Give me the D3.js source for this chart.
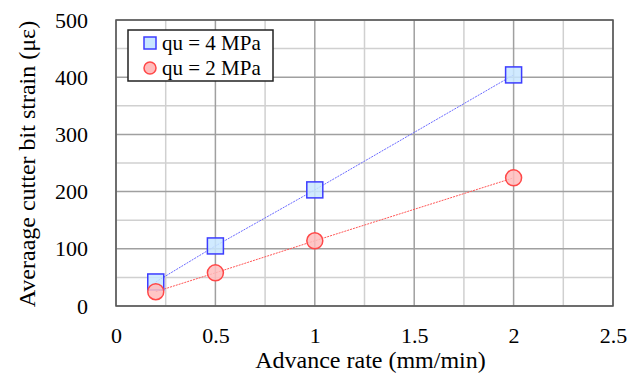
<!DOCTYPE html>
<html>
<head>
<meta charset="utf-8">
<script src="https://cdn.jsdelivr.net/npm/d3@7"></script>
<style>
  body { margin: 0; background: #fff; }
</style>
</head>
<body>
<svg id="chart" width="640" height="376"></svg>
<script>
// data
var advanceRate = [0.2, 0.5, 1, 2];
var strainQu4 = [42, 105, 203, 404];
var strainQu2 = [25, 58, 114, 224];
var seriesNames = ["qu = 4 MPa", "qu = 2 MPa"];
var xTicks = [0, 0.5, 1, 1.5, 2, 2.5];
var yTicks = [0, 100, 200, 300, 400, 500];

var serif = "'Liberation Serif', 'Times New Roman', serif";

var svg = d3.select("#chart");
var margin = { top: 20, right: 27, bottom: 70, left: 116 };
var width = +svg.attr("width") - margin.left - margin.right;
var height = +svg.attr("height") - margin.top - margin.bottom;

var x = d3.scaleLinear().domain([0, 2.5]).range([0, width]);
var y = d3.scaleLinear().domain([0, 500]).range([height, 0]);

var g = svg.append("g")
    .attr("transform", "translate(" + margin.left + "," + margin.top + ")");

// minor grid
g.selectAll(".vminor")
    .data(d3.range(0.25, 2.5, 0.5))
    .enter().append("line")
    .attr("x1", function (d) { return x(d); })
    .attr("x2", function (d) { return x(d); })
    .attr("y1", 0).attr("y2", height)
    .attr("stroke", "#d0d0d0").attr("stroke-width", 1.5);

g.selectAll(".hminor")
    .data(d3.range(50, 500, 100))
    .enter().append("line")
    .attr("y1", function (d) { return y(d); })
    .attr("y2", function (d) { return y(d); })
    .attr("x1", 0).attr("x2", width)
    .attr("stroke", "#d0d0d0").attr("stroke-width", 1.5);

// major grid
g.selectAll(".vmajor")
    .data(xTicks)
    .enter().append("line")
    .attr("x1", function (d) { return x(d); })
    .attr("x2", function (d) { return x(d); })
    .attr("y1", 0).attr("y2", height)
    .attr("stroke", "#a0a0a0").attr("stroke-width", 1.5);

g.selectAll(".hmajor")
    .data(yTicks)
    .enter().append("line")
    .attr("y1", function (d) { return y(d); })
    .attr("y2", function (d) { return y(d); })
    .attr("x1", 0).attr("x2", width)
    .attr("stroke", "#a0a0a0").attr("stroke-width", 1.5);

// frame
g.append("rect")
    .attr("width", width).attr("height", height)
    .attr("fill", "none").attr("stroke", "#555").attr("stroke-width", 1.5);

// axes (labels only)
var xAxis = g.append("g")
    .attr("transform", "translate(0," + height + ")")
    .call(d3.axisBottom(x).tickValues(xTicks).tickSize(0).tickPadding(21)
        .tickFormat(function (d) { return d; }));
xAxis.select(".domain").remove();
xAxis.selectAll("text").style("font-size", "22px").style("font-family", serif).attr("fill", "#000");

var yAxis = g.append("g")
    .call(d3.axisLeft(y).tickValues(yTicks).tickSize(0).tickPadding(28));
yAxis.select(".domain").remove();
yAxis.selectAll("text").style("font-size", "22px").style("font-family", serif).attr("fill", "#000");

svg.append("text")
    .attr("x", margin.left + width / 2 + 6)
    .attr("y", 368)
    .attr("text-anchor", "middle")
    .style("font-family", serif)
    .style("font-size", "24px")
    .text("Advance rate (mm/min)");

svg.append("text")
    .attr("transform", "translate(35," + (margin.top + height / 2 + 1) + ") rotate(-90)")
    .attr("text-anchor", "middle")
    .style("font-family", serif)
    .style("font-size", "24px")
    .text("Averaage cutter bit strain (\u03bc\u03b5)");

// series lines
var line = d3.line()
    .x(function (d) { return x(d[0]); })
    .y(function (d) { return y(d[1]); });

var qu4 = advanceRate.map(function (d, i) { return [d, strainQu4[i]]; });
var qu2 = advanceRate.map(function (d, i) { return [d, strainQu2[i]]; });

g.append("path").datum(qu4).attr("d", line)
    .attr("fill", "none").attr("stroke", "#6a6aff").attr("stroke-width", 1)
    .attr("stroke-dasharray", "2,1");
g.append("path").datum(qu2).attr("d", line)
    .attr("fill", "none").attr("stroke", "#ff5555").attr("stroke-width", 1)
    .attr("stroke-dasharray", "2,1");

// markers
g.selectAll(".sq").data(qu4).enter().append("rect")
    .attr("x", function (d) { return x(d[0]) - 8; })
    .attr("y", function (d) { return y(d[1]) - 8; })
    .attr("width", 16).attr("height", 16)
    .attr("fill", "#c8e6ff").attr("fill-opacity", 0.85)
    .attr("stroke", "#3c3cff").attr("stroke-width", 1.5);

g.selectAll(".ci").data(qu2).enter().append("circle")
    .attr("cx", function (d) { return x(d[0]); })
    .attr("cy", function (d) { return y(d[1]); })
    .attr("r", 8)
    .attr("fill", "#ffbcbc").attr("fill-opacity", 0.85)
    .attr("stroke", "#ff4848").attr("stroke-width", 1.5);

// legend
var lg = svg.append("g").attr("transform", "translate(128,30)");
lg.append("rect").attr("width", 145).attr("height", 51)
    .attr("fill", "#fff").attr("stroke", "#222").attr("stroke-width", 1.5);
lg.append("rect").attr("x", 16).attr("y", 7).attr("width", 12).attr("height", 12)
    .attr("fill", "#c8e6ff").attr("stroke", "#3c3cff").attr("stroke-width", 1.5);
lg.append("circle").attr("cx", 22).attr("cy", 38).attr("r", 6)
    .attr("fill", "#ffbcbc").attr("stroke", "#ff4848").attr("stroke-width", 1.5);
lg.selectAll(".lt").data(seriesNames).enter().append("text")
    .attr("x", 34)
    .attr("y", function (d, i) { return 20 + i * 25; })
    .style("font-family", serif)
    .style("font-size", "21px")
    .text(function (d) { return d; });
</script>
</body>
</html>
